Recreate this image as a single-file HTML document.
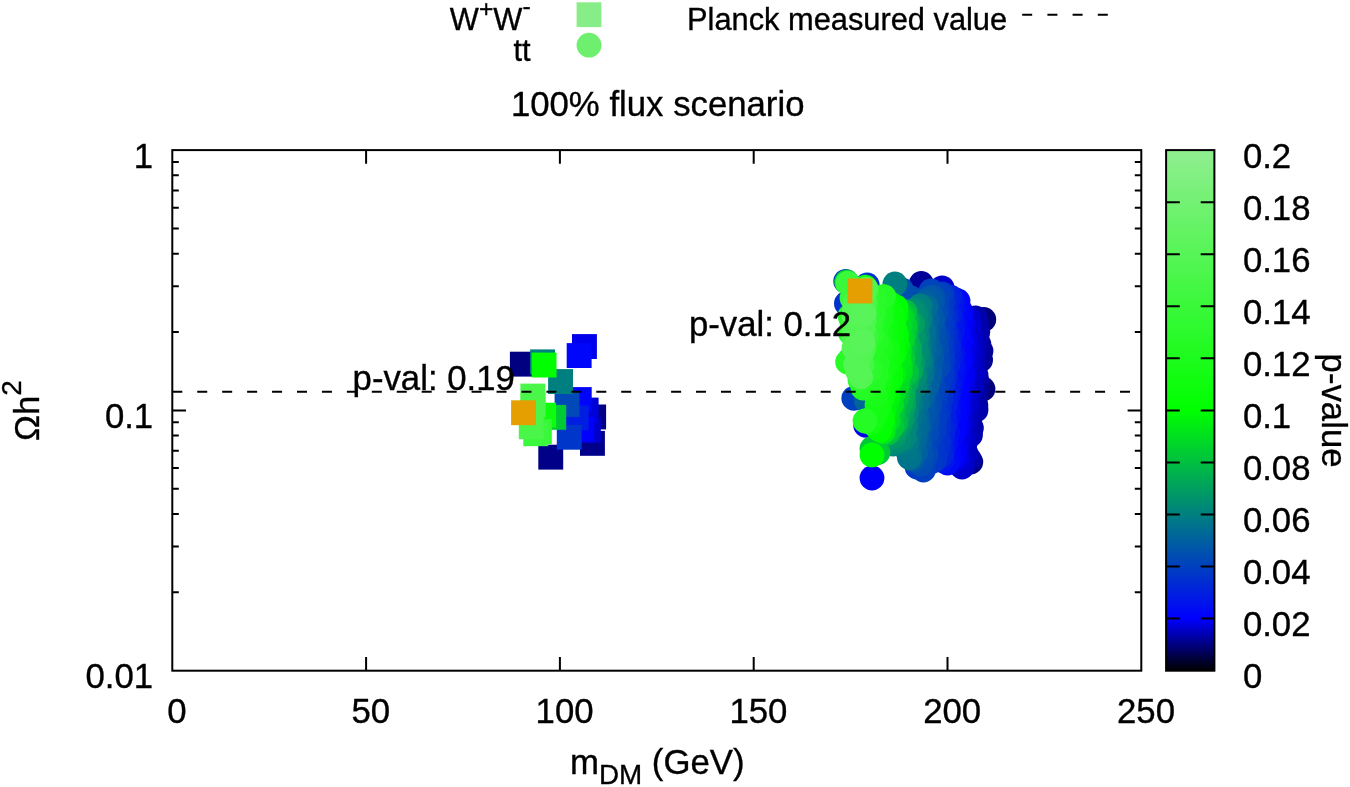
<!DOCTYPE html>
<html><head><meta charset="utf-8"><title>100% flux scenario</title>
<style>html,body{margin:0;padding:0;background:#fff;}body{width:1350px;height:787px;overflow:hidden;}svg{display:block;will-change:transform;}text{font-family:"Liberation Sans",sans-serif;fill:#000;stroke:#000;stroke-width:0.35px;}</style></head><body>
<svg width="1350" height="787" viewBox="0 0 1350 787">
<defs><linearGradient id="cb" x1="0" y1="1" x2="0" y2="0"><stop offset="0" stop-color="#000000"/><stop offset="0.1" stop-color="#0000ff"/><stop offset="0.5" stop-color="#00ff00"/><stop offset="1" stop-color="#90ee90"/></linearGradient></defs>
<rect x="0" y="0" width="1350" height="787" fill="#ffffff"/>
<g stroke="#000" stroke-width="2" fill="none" stroke-linecap="butt">
<path d="M366.1 670.7V657.0M366.1 150.1V163.8"/>
<path d="M559.9 670.7V657.0M559.9 150.1V163.8"/>
<path d="M753.7 670.7V657.0M753.7 150.1V163.8"/>
<path d="M947.5 670.7V657.0M947.5 150.1V163.8"/>
<path d="M172.3 410.4H186.0M1141.3 410.4H1127.6"/>
<path d="M172.3 332.0H178.8M1141.3 332.0H1134.8"/>
<path d="M172.3 286.2H178.8M1141.3 286.2H1134.8"/>
<path d="M172.3 253.7H178.8M1141.3 253.7H1134.8"/>
<path d="M172.3 228.5H178.8M1141.3 228.5H1134.8"/>
<path d="M172.3 207.8H178.8M1141.3 207.8H1134.8"/>
<path d="M172.3 190.4H178.8M1141.3 190.4H1134.8"/>
<path d="M172.3 175.3H178.8M1141.3 175.3H1134.8"/>
<path d="M172.3 162.0H178.8M1141.3 162.0H1134.8"/>
<path d="M172.3 592.3H178.8M1141.3 592.3H1134.8"/>
<path d="M172.3 546.5H178.8M1141.3 546.5H1134.8"/>
<path d="M172.3 514.0H178.8M1141.3 514.0H1134.8"/>
<path d="M172.3 488.8H178.8M1141.3 488.8H1134.8"/>
<path d="M172.3 468.1H178.8M1141.3 468.1H1134.8"/>
<path d="M172.3 450.7H178.8M1141.3 450.7H1134.8"/>
<path d="M172.3 435.6H178.8M1141.3 435.6H1134.8"/>
<path d="M172.3 422.3H178.8M1141.3 422.3H1134.8"/>
</g>
<g id="pts">
<circle cx="983.8" cy="319.4" r="12.4" fill="#000079"/>
<circle cx="983.0" cy="389.0" r="12.4" fill="#000079"/>
<rect x="509.9" y="351.7" width="24.9" height="24.9" fill="#000080"/>
<rect x="581.2" y="404.5" width="24.9" height="24.9" fill="#000086"/>
<circle cx="970.8" cy="462.0" r="12.4" fill="#000086"/>
<rect x="538.3" y="444.7" width="24.9" height="24.9" fill="#000088"/>
<rect x="580.0" y="430.9" width="24.9" height="24.9" fill="#00008a"/>
<circle cx="977.6" cy="385.6" r="12.4" fill="#000090"/>
<circle cx="981.0" cy="351.0" r="12.4" fill="#000092"/>
<circle cx="975.9" cy="405.4" r="12.4" fill="#000095"/>
<circle cx="980.6" cy="360.0" r="12.4" fill="#000095"/>
<circle cx="975.1" cy="396.8" r="12.4" fill="#000099"/>
<circle cx="921.3" cy="283.4" r="12.4" fill="#000099"/>
<circle cx="978.6" cy="354.5" r="12.4" fill="#00009a"/>
<circle cx="978.8" cy="343.9" r="12.4" fill="#00009a"/>
<circle cx="977.9" cy="358.4" r="12.4" fill="#00009b"/>
<circle cx="973.2" cy="409.6" r="12.4" fill="#00009c"/>
<circle cx="976.8" cy="380.5" r="12.4" fill="#0000a1"/>
<circle cx="977.8" cy="331.7" r="12.4" fill="#0000a1"/>
<circle cx="975.0" cy="391.1" r="12.4" fill="#0000a2"/>
<circle cx="976.4" cy="323.4" r="12.4" fill="#0000a4"/>
<circle cx="977.5" cy="346.7" r="12.4" fill="#0000a6"/>
<circle cx="969.1" cy="459.0" r="12.4" fill="#0000a9"/>
<circle cx="971.4" cy="428.1" r="12.4" fill="#0000aa"/>
<circle cx="970.5" cy="415.8" r="12.4" fill="#0000ab"/>
<circle cx="976.0" cy="410.0" r="12.4" fill="#0000ac"/>
<circle cx="970.5" cy="435.0" r="12.4" fill="#0000ac"/>
<circle cx="977.0" cy="335.0" r="12.4" fill="#0000ad"/>
<circle cx="975.4" cy="317.9" r="12.4" fill="#0000ad"/>
<circle cx="975.2" cy="330.9" r="12.4" fill="#0000ae"/>
<circle cx="976.0" cy="375.0" r="12.4" fill="#0000ae"/>
<circle cx="970.2" cy="402.2" r="12.4" fill="#0000b2"/>
<circle cx="968.4" cy="431.9" r="12.4" fill="#0000b4"/>
<circle cx="968.5" cy="436.5" r="12.4" fill="#0000b7"/>
<circle cx="973.2" cy="363.3" r="12.4" fill="#0000b8"/>
<circle cx="971.6" cy="381.0" r="12.4" fill="#0000b8"/>
<circle cx="969.1" cy="393.5" r="12.4" fill="#0000b9"/>
<circle cx="972.1" cy="340.7" r="12.4" fill="#0000bc"/>
<circle cx="966.0" cy="453.4" r="12.4" fill="#0000bc"/>
<circle cx="971.4" cy="388.4" r="12.4" fill="#0000bd"/>
<circle cx="972.8" cy="355.3" r="12.4" fill="#0000bd"/>
<circle cx="963.6" cy="447.2" r="12.4" fill="#0000c0"/>
<circle cx="965.4" cy="418.7" r="12.4" fill="#0000c0"/>
<circle cx="967.3" cy="397.8" r="12.4" fill="#0000c0"/>
<circle cx="972.8" cy="374.5" r="12.4" fill="#0000c2"/>
<circle cx="966.9" cy="385.7" r="12.4" fill="#0000c3"/>
<circle cx="964.8" cy="444.2" r="12.4" fill="#0000c3"/>
<circle cx="966.6" cy="407.9" r="12.4" fill="#0000c3"/>
<circle cx="972.0" cy="348.1" r="12.4" fill="#0000c4"/>
<circle cx="968.8" cy="341.1" r="12.4" fill="#0000c5"/>
<circle cx="968.1" cy="331.2" r="12.4" fill="#0000c5"/>
<circle cx="970.4" cy="334.1" r="12.4" fill="#0000c7"/>
<circle cx="961.9" cy="459.2" r="12.4" fill="#0000c7"/>
<circle cx="942.1" cy="287.8" r="12.4" fill="#0000c8"/>
<circle cx="959.8" cy="456.4" r="12.4" fill="#0000c8"/>
<circle cx="968.5" cy="373.7" r="12.4" fill="#0000c9"/>
<rect x="575.9" y="418.1" width="24.9" height="24.9" fill="#0000c9"/>
<circle cx="962.4" cy="436.0" r="12.4" fill="#0000ca"/>
<circle cx="969.1" cy="325.1" r="12.4" fill="#0000ca"/>
<circle cx="962.5" cy="426.0" r="12.4" fill="#0000ca"/>
<circle cx="970.4" cy="371.7" r="12.4" fill="#0000cb"/>
<circle cx="962.0" cy="467.0" r="12.4" fill="#0000cb"/>
<circle cx="964.9" cy="403.7" r="12.4" fill="#0000cd"/>
<circle cx="968.4" cy="353.5" r="12.4" fill="#0000ce"/>
<circle cx="968.4" cy="318.9" r="12.4" fill="#0000ce"/>
<circle cx="967.8" cy="360.6" r="12.4" fill="#0000cf"/>
<circle cx="961.3" cy="413.7" r="12.4" fill="#0000cf"/>
<circle cx="961.2" cy="419.6" r="12.4" fill="#0000cf"/>
<circle cx="965.2" cy="391.4" r="12.4" fill="#0000d1"/>
<circle cx="966.5" cy="362.3" r="12.4" fill="#0000d2"/>
<circle cx="958.5" cy="442.3" r="12.4" fill="#0000d4"/>
<rect x="573.7" y="397.6" width="24.9" height="24.9" fill="#0000d9"/>
<circle cx="963.4" cy="382.8" r="12.4" fill="#0000da"/>
<circle cx="958.1" cy="429.9" r="12.4" fill="#0000dc"/>
<circle cx="965.3" cy="346.8" r="12.4" fill="#0000e2"/>
<circle cx="964.3" cy="325.9" r="12.4" fill="#0000e2"/>
<circle cx="957.1" cy="458.6" r="12.4" fill="#0000e3"/>
<circle cx="961.5" cy="386.3" r="12.4" fill="#0000e5"/>
<circle cx="964.4" cy="338.0" r="12.4" fill="#0000e5"/>
<circle cx="958.1" cy="435.9" r="12.4" fill="#0000e5"/>
<circle cx="955.9" cy="445.4" r="12.4" fill="#0000e5"/>
<rect x="572.0" y="334.1" width="24.9" height="24.9" fill="#0000ec"/>
<circle cx="865.7" cy="425.3" r="12.4" fill="#0000ec"/>
<circle cx="962.9" cy="371.7" r="12.4" fill="#0000ed"/>
<circle cx="958.4" cy="425.4" r="12.4" fill="#0000f0"/>
<circle cx="959.2" cy="397.9" r="12.4" fill="#0000f2"/>
<circle cx="962.2" cy="376.7" r="12.4" fill="#0000f3"/>
<circle cx="954.8" cy="449.0" r="12.4" fill="#0000f5"/>
<circle cx="958.7" cy="409.4" r="12.4" fill="#0000f7"/>
<circle cx="961.4" cy="320.1" r="12.4" fill="#0000f8"/>
<circle cx="872.0" cy="478.0" r="12.4" fill="#0000f9"/>
<circle cx="953.4" cy="456.0" r="12.4" fill="#0000fb"/>
<circle cx="957.2" cy="413.1" r="12.4" fill="#0000fb"/>
<circle cx="956.4" cy="404.4" r="12.4" fill="#0000fc"/>
<circle cx="962.2" cy="359.8" r="12.4" fill="#0000fc"/>
<rect x="569.5" y="416.8" width="24.9" height="24.9" fill="#0000fc"/>
<circle cx="957.8" cy="382.0" r="12.4" fill="#0000fe"/>
<circle cx="960.2" cy="310.3" r="12.4" fill="#0000fe"/>
<circle cx="959.7" cy="332.7" r="12.4" fill="#0000ff"/>
<circle cx="961.3" cy="341.9" r="12.4" fill="#0001fe"/>
<circle cx="954.2" cy="431.3" r="12.4" fill="#0001fe"/>
<circle cx="957.3" cy="390.9" r="12.4" fill="#0001fe"/>
<circle cx="958.8" cy="346.5" r="12.4" fill="#0002fd"/>
<circle cx="959.9" cy="365.1" r="12.4" fill="#0002fd"/>
<circle cx="961.0" cy="313.0" r="12.4" fill="#0003fc"/>
<circle cx="955.0" cy="399.1" r="12.4" fill="#0003fc"/>
<circle cx="951.3" cy="426.8" r="12.4" fill="#0003fc"/>
<circle cx="955.4" cy="419.1" r="12.4" fill="#0003fc"/>
<circle cx="950.6" cy="459.1" r="12.4" fill="#0004fb"/>
<circle cx="951.3" cy="436.7" r="12.4" fill="#0004fb"/>
<circle cx="958.6" cy="361.0" r="12.4" fill="#0005fa"/>
<rect x="566.8" y="387.1" width="24.9" height="24.9" fill="#0005fa"/>
<circle cx="959.1" cy="352.1" r="12.4" fill="#0005fa"/>
<circle cx="954.0" cy="408.4" r="12.4" fill="#0005fa"/>
<circle cx="949.0" cy="448.3" r="12.4" fill="#0006f9"/>
<circle cx="957.4" cy="304.3" r="12.4" fill="#0006f9"/>
<circle cx="950.8" cy="402.6" r="12.4" fill="#0006f9"/>
<circle cx="958.6" cy="334.2" r="12.4" fill="#0006f9"/>
<rect x="566.7" y="343.1" width="24.9" height="24.9" fill="#0006f9"/>
<circle cx="948.7" cy="456.4" r="12.4" fill="#0007f8"/>
<circle cx="957.0" cy="312.4" r="12.4" fill="#0007f8"/>
<circle cx="955.3" cy="370.2" r="12.4" fill="#0007f8"/>
<circle cx="958.0" cy="301.0" r="12.4" fill="#0007f8"/>
<circle cx="954.6" cy="340.6" r="12.4" fill="#0008f7"/>
<circle cx="947.5" cy="463.0" r="12.4" fill="#000af5"/>
<circle cx="954.9" cy="323.1" r="12.4" fill="#000af5"/>
<circle cx="953.5" cy="298.8" r="12.4" fill="#000bf4"/>
<circle cx="948.5" cy="416.1" r="12.4" fill="#000cf3"/>
<circle cx="951.7" cy="386.6" r="12.4" fill="#000cf3"/>
<circle cx="953.1" cy="376.3" r="12.4" fill="#000cf3"/>
<circle cx="947.8" cy="433.2" r="12.4" fill="#000ef1"/>
<circle cx="948.3" cy="409.2" r="12.4" fill="#000ef1"/>
<circle cx="952.9" cy="364.1" r="12.4" fill="#0010ef"/>
<circle cx="946.2" cy="441.9" r="12.4" fill="#0010ef"/>
<circle cx="949.0" cy="392.3" r="12.4" fill="#0011ee"/>
<circle cx="952.2" cy="368.6" r="12.4" fill="#0012ed"/>
<circle cx="953.2" cy="354.2" r="12.4" fill="#0012ed"/>
<circle cx="952.6" cy="319.8" r="12.4" fill="#0012ed"/>
<circle cx="952.5" cy="310.1" r="12.4" fill="#0013ec"/>
<circle cx="952.3" cy="301.9" r="12.4" fill="#0014eb"/>
<circle cx="952.7" cy="330.7" r="12.4" fill="#0014eb"/>
<circle cx="951.6" cy="324.2" r="12.4" fill="#0016e9"/>
<circle cx="942.3" cy="460.5" r="12.4" fill="#0016e9"/>
<circle cx="949.4" cy="383.1" r="12.4" fill="#0016e9"/>
<circle cx="947.8" cy="396.4" r="12.4" fill="#0018e7"/>
<circle cx="950.3" cy="338.3" r="12.4" fill="#0019e6"/>
<circle cx="950.8" cy="358.2" r="12.4" fill="#001ae5"/>
<circle cx="945.6" cy="422.8" r="12.4" fill="#001be4"/>
<circle cx="947.3" cy="388.5" r="12.4" fill="#001ce3"/>
<circle cx="942.4" cy="438.7" r="12.4" fill="#001de2"/>
<circle cx="942.6" cy="450.3" r="12.4" fill="#001de2"/>
<rect x="563.8" y="405.5" width="24.9" height="24.9" fill="#001de2"/>
<circle cx="944.4" cy="415.7" r="12.4" fill="#001de2"/>
<circle cx="945.4" cy="404.4" r="12.4" fill="#001fe0"/>
<circle cx="943.7" cy="428.1" r="12.4" fill="#001fe0"/>
<circle cx="945.5" cy="393.3" r="12.4" fill="#0020df"/>
<circle cx="949.6" cy="314.9" r="12.4" fill="#0020df"/>
<circle cx="950.0" cy="297.0" r="12.4" fill="#0021de"/>
<circle cx="948.7" cy="352.3" r="12.4" fill="#0022dd"/>
<circle cx="941.1" cy="455.6" r="12.4" fill="#0023dc"/>
<circle cx="942.9" cy="431.4" r="12.4" fill="#0023dc"/>
<circle cx="947.7" cy="364.7" r="12.4" fill="#0025da"/>
<circle cx="946.2" cy="297.7" r="12.4" fill="#0026d9"/>
<circle cx="948.5" cy="345.5" r="12.4" fill="#0027d8"/>
<circle cx="945.7" cy="309.8" r="12.4" fill="#0028d7"/>
<circle cx="945.1" cy="376.3" r="12.4" fill="#002ad5"/>
<circle cx="939.5" cy="443.1" r="12.4" fill="#002bd4"/>
<circle cx="946.3" cy="332.6" r="12.4" fill="#002cd3"/>
<circle cx="937.4" cy="450.5" r="12.4" fill="#002ed1"/>
<circle cx="945.2" cy="341.2" r="12.4" fill="#002ed1"/>
<circle cx="938.6" cy="418.5" r="12.4" fill="#002fd0"/>
<circle cx="943.2" cy="383.0" r="12.4" fill="#002fd0"/>
<circle cx="945.2" cy="317.3" r="12.4" fill="#002fd0"/>
<circle cx="943.6" cy="348.9" r="12.4" fill="#002fd0"/>
<circle cx="941.4" cy="398.0" r="12.4" fill="#002fd0"/>
<circle cx="939.0" cy="426.8" r="12.4" fill="#002fd0"/>
<circle cx="845.7" cy="281.3" r="12.4" fill="#0030cf"/>
<circle cx="867.2" cy="284.9" r="12.4" fill="#0030cf"/>
<circle cx="846.4" cy="303.6" r="12.4" fill="#0030cf"/>
<circle cx="939.4" cy="410.3" r="12.4" fill="#0030cf"/>
<circle cx="940.2" cy="386.2" r="12.4" fill="#0030cf"/>
<circle cx="938.1" cy="439.7" r="12.4" fill="#0031ce"/>
<circle cx="942.5" cy="372.0" r="12.4" fill="#0032cd"/>
<circle cx="935.0" cy="460.0" r="12.4" fill="#0033cc"/>
<circle cx="934.7" cy="456.1" r="12.4" fill="#0034cb"/>
<circle cx="943.0" cy="335.2" r="12.4" fill="#0035ca"/>
<circle cx="943.2" cy="360.8" r="12.4" fill="#0035ca"/>
<circle cx="936.0" cy="410.7" r="12.4" fill="#0035ca"/>
<rect x="556.8" y="424.8" width="24.9" height="24.9" fill="#0036c9"/>
<circle cx="942.0" cy="375.3" r="12.4" fill="#0036c9"/>
<circle cx="931.0" cy="446.7" r="12.4" fill="#0037c8"/>
<circle cx="932.3" cy="445.0" r="12.4" fill="#0037c8"/>
<circle cx="942.9" cy="302.2" r="12.4" fill="#0037c8"/>
<circle cx="936.2" cy="402.2" r="12.4" fill="#0037c8"/>
<circle cx="938.6" cy="383.3" r="12.4" fill="#0038c7"/>
<circle cx="936.8" cy="414.3" r="12.4" fill="#0038c7"/>
<circle cx="942.0" cy="312.5" r="12.4" fill="#0038c7"/>
<circle cx="942.1" cy="323.5" r="12.4" fill="#0038c7"/>
<circle cx="930.7" cy="462.1" r="12.4" fill="#0039c6"/>
<circle cx="942.3" cy="353.9" r="12.4" fill="#0039c6"/>
<circle cx="917.0" cy="467.0" r="12.4" fill="#0039c6"/>
<circle cx="929.5" cy="441.5" r="12.4" fill="#003bc4"/>
<circle cx="941.5" cy="343.8" r="12.4" fill="#003bc4"/>
<circle cx="942.0" cy="294.0" r="12.4" fill="#003bc4"/>
<circle cx="933.1" cy="415.8" r="12.4" fill="#003bc4"/>
<circle cx="935.1" cy="399.8" r="12.4" fill="#003cc3"/>
<circle cx="938.8" cy="328.9" r="12.4" fill="#003cc3"/>
<circle cx="934.3" cy="430.4" r="12.4" fill="#003cc3"/>
<circle cx="934.9" cy="419.5" r="12.4" fill="#003dc2"/>
<circle cx="939.2" cy="309.1" r="12.4" fill="#003dc2"/>
<circle cx="930.3" cy="426.8" r="12.4" fill="#003dc2"/>
<circle cx="939.7" cy="317.6" r="12.4" fill="#003ec1"/>
<circle cx="938.7" cy="325.5" r="12.4" fill="#003ec1"/>
<circle cx="936.8" cy="391.8" r="12.4" fill="#003fc0"/>
<circle cx="929.0" cy="438.9" r="12.4" fill="#003fc0"/>
<circle cx="923.4" cy="470.0" r="12.4" fill="#0040bf"/>
<circle cx="853.8" cy="398.3" r="12.4" fill="#0040bf"/>
<circle cx="938.7" cy="294.8" r="12.4" fill="#0042bd"/>
<circle cx="931.0" cy="291.0" r="12.4" fill="#0043bc"/>
<circle cx="938.4" cy="358.4" r="12.4" fill="#0043bc"/>
<circle cx="926.3" cy="439.4" r="12.4" fill="#0044bb"/>
<circle cx="938.7" cy="365.9" r="12.4" fill="#0044bb"/>
<circle cx="925.0" cy="459.0" r="12.4" fill="#0044bb"/>
<circle cx="938.1" cy="337.9" r="12.4" fill="#0045ba"/>
<circle cx="933.2" cy="386.0" r="12.4" fill="#0045ba"/>
<circle cx="936.6" cy="301.4" r="12.4" fill="#0045ba"/>
<circle cx="932.1" cy="393.7" r="12.4" fill="#0045ba"/>
<circle cx="923.8" cy="450.4" r="12.4" fill="#0045ba"/>
<circle cx="935.0" cy="309.4" r="12.4" fill="#0046b9"/>
<circle cx="926.6" cy="427.2" r="12.4" fill="#0047b8"/>
<circle cx="926.1" cy="454.1" r="12.4" fill="#0047b8"/>
<circle cx="934.8" cy="353.9" r="12.4" fill="#0048b7"/>
<circle cx="927.1" cy="432.3" r="12.4" fill="#0049b6"/>
<circle cx="936.7" cy="368.0" r="12.4" fill="#0049b6"/>
<rect x="554.6" y="392.0" width="24.9" height="24.9" fill="#0049b6"/>
<circle cx="928.2" cy="410.7" r="12.4" fill="#004ab5"/>
<circle cx="932.5" cy="376.3" r="12.4" fill="#004ab5"/>
<circle cx="936.9" cy="349.3" r="12.4" fill="#004ab5"/>
<circle cx="936.3" cy="312.1" r="12.4" fill="#004ab5"/>
<circle cx="928.7" cy="399.9" r="12.4" fill="#004ab5"/>
<circle cx="929.8" cy="405.2" r="12.4" fill="#004bb4"/>
<circle cx="921.0" cy="463.8" r="12.4" fill="#004cb3"/>
<circle cx="911.0" cy="298.0" r="12.4" fill="#004cb2"/>
<circle cx="935.0" cy="341.6" r="12.4" fill="#004db2"/>
<circle cx="927.6" cy="420.3" r="12.4" fill="#004fb0"/>
<circle cx="932.2" cy="364.7" r="12.4" fill="#004fb0"/>
<circle cx="917.0" cy="460.3" r="12.4" fill="#0050af"/>
<circle cx="901.4" cy="289.7" r="12.4" fill="#0050af"/>
<circle cx="933.1" cy="334.6" r="12.4" fill="#0050af"/>
<circle cx="921.2" cy="454.5" r="12.4" fill="#0050af"/>
<circle cx="933.6" cy="330.3" r="12.4" fill="#0051ae"/>
<circle cx="919.0" cy="446.9" r="12.4" fill="#0052ad"/>
<circle cx="921.7" cy="422.7" r="12.4" fill="#0052ad"/>
<circle cx="933.0" cy="297.0" r="12.4" fill="#0052ad"/>
<circle cx="925.6" cy="405.8" r="12.4" fill="#0053ac"/>
<circle cx="924.5" cy="414.1" r="12.4" fill="#0054ab"/>
<circle cx="932.4" cy="301.2" r="12.4" fill="#0055aa"/>
<circle cx="930.5" cy="324.9" r="12.4" fill="#0055aa"/>
<circle cx="922.5" cy="408.0" r="12.4" fill="#0056a9"/>
<circle cx="932.9" cy="319.4" r="12.4" fill="#0056a9"/>
<circle cx="919.9" cy="430.6" r="12.4" fill="#0057a8"/>
<circle cx="919.8" cy="443.2" r="12.4" fill="#0057a8"/>
<circle cx="926.5" cy="380.1" r="12.4" fill="#0058a7"/>
<circle cx="929.1" cy="298.3" r="12.4" fill="#0058a7"/>
<circle cx="931.6" cy="357.0" r="12.4" fill="#0058a7"/>
<circle cx="930.0" cy="312.1" r="12.4" fill="#0058a7"/>
<circle cx="928.9" cy="380.3" r="12.4" fill="#0059a6"/>
<circle cx="929.7" cy="369.0" r="12.4" fill="#0059a6"/>
<circle cx="930.4" cy="349.4" r="12.4" fill="#005ba4"/>
<circle cx="929.7" cy="374.6" r="12.4" fill="#005ca3"/>
<circle cx="926.6" cy="365.4" r="12.4" fill="#005da2"/>
<circle cx="912.1" cy="459.1" r="12.4" fill="#005da2"/>
<circle cx="923.3" cy="392.4" r="12.4" fill="#005da2"/>
<circle cx="927.0" cy="386.6" r="12.4" fill="#005ea1"/>
<circle cx="926.4" cy="302.2" r="12.4" fill="#005ea1"/>
<circle cx="927.3" cy="332.9" r="12.4" fill="#005fa0"/>
<circle cx="915.7" cy="452.5" r="12.4" fill="#005fa0"/>
<circle cx="927.2" cy="319.3" r="12.4" fill="#00619e"/>
<circle cx="927.5" cy="352.0" r="12.4" fill="#00619e"/>
<circle cx="926.9" cy="339.8" r="12.4" fill="#00629d"/>
<circle cx="916.0" cy="436.5" r="12.4" fill="#00629d"/>
<circle cx="922.3" cy="397.9" r="12.4" fill="#00629d"/>
<circle cx="909.1" cy="452.8" r="12.4" fill="#00639c"/>
<circle cx="913.7" cy="444.7" r="12.4" fill="#00649b"/>
<circle cx="923.8" cy="314.0" r="12.4" fill="#00649b"/>
<circle cx="918.3" cy="425.4" r="12.4" fill="#00659a"/>
<circle cx="925.6" cy="327.1" r="12.4" fill="#006699"/>
<circle cx="866.4" cy="400.4" r="12.4" fill="#006699"/>
<circle cx="918.0" cy="392.0" r="12.4" fill="#006699"/>
<circle cx="917.1" cy="416.5" r="12.4" fill="#006699"/>
<circle cx="912.8" cy="428.3" r="12.4" fill="#006798"/>
<circle cx="922.9" cy="370.1" r="12.4" fill="#006798"/>
<circle cx="913.5" cy="439.8" r="12.4" fill="#006897"/>
<circle cx="914.6" cy="432.4" r="12.4" fill="#006996"/>
<circle cx="924.2" cy="345.6" r="12.4" fill="#006a95"/>
<circle cx="909.6" cy="449.9" r="12.4" fill="#006a95"/>
<circle cx="925.9" cy="307.0" r="12.4" fill="#006a95"/>
<circle cx="914.1" cy="407.9" r="12.4" fill="#006b94"/>
<circle cx="914.5" cy="418.6" r="12.4" fill="#006c93"/>
<circle cx="916.5" cy="397.9" r="12.4" fill="#006d92"/>
<circle cx="917.3" cy="402.8" r="12.4" fill="#006d92"/>
<circle cx="922.7" cy="358.3" r="12.4" fill="#006d92"/>
<circle cx="923.8" cy="334.4" r="12.4" fill="#006e91"/>
<circle cx="919.5" cy="388.1" r="12.4" fill="#006e91"/>
<circle cx="923.0" cy="329.7" r="12.4" fill="#006f90"/>
<circle cx="910.0" cy="433.7" r="12.4" fill="#00708f"/>
<circle cx="911.2" cy="415.3" r="12.4" fill="#00728d"/>
<circle cx="921.8" cy="375.6" r="12.4" fill="#00728d"/>
<circle cx="909.6" cy="421.1" r="12.4" fill="#00728d"/>
<circle cx="909.4" cy="457.4" r="12.4" fill="#00738c"/>
<circle cx="918.1" cy="380.3" r="12.4" fill="#00748b"/>
<circle cx="919.7" cy="369.1" r="12.4" fill="#00758a"/>
<circle cx="920.1" cy="343.9" r="12.4" fill="#00758a"/>
<circle cx="906.4" cy="449.2" r="12.4" fill="#007689"/>
<circle cx="919.5" cy="353.2" r="12.4" fill="#007887"/>
<circle cx="907.2" cy="442.9" r="12.4" fill="#007887"/>
<circle cx="921.3" cy="363.9" r="12.4" fill="#007986"/>
<circle cx="911.1" cy="403.5" r="12.4" fill="#007a85"/>
<circle cx="919.7" cy="306.5" r="12.4" fill="#007b84"/>
<circle cx="902.0" cy="441.7" r="12.4" fill="#007e81"/>
<circle cx="917.4" cy="349.0" r="12.4" fill="#007e81"/>
<circle cx="920.4" cy="318.8" r="12.4" fill="#007f80"/>
<rect x="530.1" y="349.4" width="24.9" height="24.9" fill="#007f80"/>
<rect x="548.1" y="369.1" width="24.9" height="24.9" fill="#007f80"/>
<circle cx="920.0" cy="306.0" r="12.4" fill="#007f80"/>
<circle cx="894.9" cy="284.0" r="12.4" fill="#007f80"/>
<circle cx="910.2" cy="391.5" r="12.4" fill="#00817e"/>
<circle cx="915.3" cy="386.0" r="12.4" fill="#00817e"/>
<circle cx="919.3" cy="359.0" r="12.4" fill="#00837c"/>
<circle cx="917.6" cy="336.4" r="12.4" fill="#00847b"/>
<circle cx="904.5" cy="437.4" r="12.4" fill="#00847b"/>
<circle cx="905.6" cy="426.0" r="12.4" fill="#00857a"/>
<circle cx="915.0" cy="318.3" r="12.4" fill="#00857a"/>
<circle cx="908.7" cy="397.8" r="12.4" fill="#00857a"/>
<circle cx="906.7" cy="408.3" r="12.4" fill="#00857a"/>
<circle cx="893.0" cy="444.0" r="12.4" fill="#008679"/>
<circle cx="902.9" cy="430.8" r="12.4" fill="#008778"/>
<circle cx="915.0" cy="310.1" r="12.4" fill="#008778"/>
<circle cx="909.6" cy="387.5" r="12.4" fill="#008877"/>
<circle cx="911.7" cy="381.0" r="12.4" fill="#008877"/>
<circle cx="916.1" cy="315.4" r="12.4" fill="#008976"/>
<circle cx="906.2" cy="413.8" r="12.4" fill="#008976"/>
<circle cx="917.0" cy="326.0" r="12.4" fill="#008a75"/>
<circle cx="915.1" cy="376.1" r="12.4" fill="#008b74"/>
<circle cx="894.0" cy="441.3" r="12.4" fill="#008b74"/>
<circle cx="916.4" cy="341.8" r="12.4" fill="#008b74"/>
<circle cx="916.9" cy="352.1" r="12.4" fill="#008c73"/>
<circle cx="899.1" cy="439.6" r="12.4" fill="#008c73"/>
<circle cx="912.8" cy="311.9" r="12.4" fill="#00906f"/>
<circle cx="913.1" cy="332.5" r="12.4" fill="#00916e"/>
<circle cx="899.8" cy="425.8" r="12.4" fill="#00946b"/>
<circle cx="913.4" cy="363.2" r="12.4" fill="#00956a"/>
<circle cx="913.2" cy="337.4" r="12.4" fill="#00956a"/>
<circle cx="894.0" cy="436.5" r="12.4" fill="#009966"/>
<circle cx="902.0" cy="418.7" r="12.4" fill="#009a65"/>
<circle cx="895.1" cy="430.2" r="12.4" fill="#009f60"/>
<circle cx="912.5" cy="323.9" r="12.4" fill="#00a05f"/>
<circle cx="904.0" cy="403.4" r="12.4" fill="#00a05f"/>
<circle cx="902.4" cy="408.4" r="12.4" fill="#00a25d"/>
<circle cx="910.8" cy="371.2" r="12.4" fill="#00a659"/>
<circle cx="906.5" cy="382.3" r="12.4" fill="#00aa55"/>
<circle cx="910.1" cy="358.0" r="12.4" fill="#00ac53"/>
<circle cx="902.3" cy="398.0" r="12.4" fill="#00ac53"/>
<circle cx="897.9" cy="415.0" r="12.4" fill="#00ac53"/>
<circle cx="907.8" cy="366.0" r="12.4" fill="#00ad52"/>
<circle cx="909.8" cy="349.6" r="12.4" fill="#00ad52"/>
<circle cx="903.2" cy="394.3" r="12.4" fill="#00ae51"/>
<circle cx="907.2" cy="321.4" r="12.4" fill="#00ae51"/>
<circle cx="907.5" cy="355.3" r="12.4" fill="#00ae51"/>
<circle cx="908.1" cy="343.9" r="12.4" fill="#00af50"/>
<circle cx="900.6" cy="403.2" r="12.4" fill="#00b24d"/>
<circle cx="906.1" cy="331.8" r="12.4" fill="#00b748"/>
<circle cx="906.5" cy="375.1" r="12.4" fill="#00b847"/>
<circle cx="895.9" cy="422.6" r="12.4" fill="#00ba45"/>
<circle cx="898.1" cy="392.1" r="12.4" fill="#00bb44"/>
<circle cx="900.0" cy="384.9" r="12.4" fill="#00bd42"/>
<circle cx="905.0" cy="312.0" r="12.4" fill="#00bf40"/>
<circle cx="904.0" cy="346.9" r="12.4" fill="#00c03f"/>
<circle cx="887.7" cy="433.1" r="12.4" fill="#00c23d"/>
<circle cx="906.3" cy="372.0" r="12.4" fill="#00c23d"/>
<circle cx="892.6" cy="414.4" r="12.4" fill="#00c43b"/>
<circle cx="896.5" cy="399.1" r="12.4" fill="#00c53a"/>
<circle cx="893.1" cy="407.3" r="12.4" fill="#00c53a"/>
<rect x="541.3" y="404.9" width="24.9" height="24.9" fill="#00c936"/>
<circle cx="872.0" cy="448.5" r="12.4" fill="#00c936"/>
<circle cx="878.0" cy="452.5" r="12.4" fill="#00c936"/>
<circle cx="891.7" cy="427.1" r="12.4" fill="#00c936"/>
<circle cx="903.9" cy="335.2" r="12.4" fill="#00c936"/>
<circle cx="903.1" cy="315.7" r="12.4" fill="#00cb34"/>
<circle cx="902.9" cy="358.0" r="12.4" fill="#00cc33"/>
<circle cx="905.2" cy="325.7" r="12.4" fill="#00cd32"/>
<circle cx="846.6" cy="282.0" r="12.4" fill="#00cf30"/>
<circle cx="897.8" cy="382.4" r="12.4" fill="#00d02f"/>
<circle cx="901.1" cy="329.9" r="12.4" fill="#00d12e"/>
<circle cx="901.6" cy="317.9" r="12.4" fill="#00d827"/>
<circle cx="902.2" cy="339.8" r="12.4" fill="#00d827"/>
<circle cx="897.2" cy="385.2" r="12.4" fill="#00da25"/>
<circle cx="899.6" cy="373.5" r="12.4" fill="#00de21"/>
<circle cx="899.8" cy="351.1" r="12.4" fill="#00de21"/>
<circle cx="888.4" cy="419.9" r="12.4" fill="#00df20"/>
<circle cx="893.3" cy="393.1" r="12.4" fill="#00df20"/>
<circle cx="899.8" cy="326.1" r="12.4" fill="#00df20"/>
<circle cx="900.5" cy="371.9" r="12.4" fill="#00e11e"/>
<circle cx="891.5" cy="405.0" r="12.4" fill="#00e31c"/>
<circle cx="887.2" cy="413.0" r="12.4" fill="#00e41b"/>
<circle cx="900.3" cy="365.7" r="12.4" fill="#00e41b"/>
<circle cx="897.0" cy="365.0" r="12.4" fill="#00e619"/>
<circle cx="887.2" cy="410.9" r="12.4" fill="#00e817"/>
<circle cx="883.0" cy="431.8" r="12.4" fill="#00eb14"/>
<circle cx="895.4" cy="308.0" r="12.4" fill="#00eb14"/>
<circle cx="898.9" cy="359.5" r="12.4" fill="#00eb14"/>
<circle cx="887.5" cy="402.6" r="12.4" fill="#00ec13"/>
<circle cx="883.6" cy="425.8" r="12.4" fill="#00ee11"/>
<circle cx="896.6" cy="314.6" r="12.4" fill="#00f20d"/>
<circle cx="893.6" cy="374.5" r="12.4" fill="#00f40b"/>
<circle cx="883.7" cy="411.3" r="12.4" fill="#00f50a"/>
<circle cx="888.3" cy="396.2" r="12.4" fill="#00f50a"/>
<circle cx="886.8" cy="388.6" r="12.4" fill="#00f609"/>
<circle cx="897.8" cy="346.1" r="12.4" fill="#00f609"/>
<circle cx="896.7" cy="335.6" r="12.4" fill="#00fa05"/>
<circle cx="895.6" cy="341.4" r="12.4" fill="#00fc03"/>
<circle cx="890.4" cy="304.0" r="12.4" fill="#00fe01"/>
<rect x="531.6" y="352.6" width="24.9" height="24.9" fill="#00ff00"/>
<circle cx="872.0" cy="454.9" r="12.4" fill="#00ff00"/>
<circle cx="896.0" cy="307.0" r="12.4" fill="#00ff00"/>
<circle cx="882.5" cy="419.7" r="12.4" fill="#01ff01"/>
<circle cx="888.5" cy="375.7" r="12.4" fill="#01ff01"/>
<circle cx="894.3" cy="318.3" r="12.4" fill="#01ff01"/>
<circle cx="895.0" cy="329.8" r="12.4" fill="#01ff01"/>
<circle cx="883.7" cy="393.8" r="12.4" fill="#02ff02"/>
<circle cx="883.6" cy="388.4" r="12.4" fill="#02ff02"/>
<circle cx="893.9" cy="354.3" r="12.4" fill="#02ff02"/>
<circle cx="881.1" cy="415.1" r="12.4" fill="#03ff03"/>
<circle cx="880.0" cy="430.0" r="12.4" fill="#03ff03"/>
<circle cx="892.7" cy="347.0" r="12.4" fill="#03ff03"/>
<circle cx="877.5" cy="427.9" r="12.4" fill="#03ff03"/>
<circle cx="890.3" cy="321.0" r="12.4" fill="#04ff04"/>
<circle cx="890.7" cy="372.2" r="12.4" fill="#04ff04"/>
<circle cx="890.3" cy="380.1" r="12.4" fill="#05fe05"/>
<circle cx="887.7" cy="371.1" r="12.4" fill="#06fe06"/>
<circle cx="891.8" cy="334.7" r="12.4" fill="#07fe07"/>
<circle cx="892.3" cy="314.7" r="12.4" fill="#07fe07"/>
<circle cx="865.3" cy="287.2" r="12.4" fill="#07fe07"/>
<circle cx="875.2" cy="422.1" r="12.4" fill="#07fe07"/>
<circle cx="892.8" cy="325.0" r="12.4" fill="#07fe07"/>
<circle cx="880.4" cy="403.9" r="12.4" fill="#08fe08"/>
<circle cx="882.9" cy="396.5" r="12.4" fill="#09fe09"/>
<circle cx="890.4" cy="357.5" r="12.4" fill="#09fe09"/>
<circle cx="888.8" cy="309.0" r="12.4" fill="#09fe09"/>
<circle cx="886.6" cy="381.1" r="12.4" fill="#09fe09"/>
<circle cx="884.3" cy="338.1" r="12.4" fill="#0afe0a"/>
<circle cx="884.4" cy="312.2" r="12.4" fill="#0bfe0b"/>
<circle cx="887.0" cy="340.0" r="12.4" fill="#0bfe0b"/>
<circle cx="879.0" cy="390.9" r="12.4" fill="#0cfe0c"/>
<circle cx="885.8" cy="325.6" r="12.4" fill="#0cfe0c"/>
<circle cx="886.7" cy="328.5" r="12.4" fill="#0cfe0c"/>
<circle cx="884.0" cy="304.3" r="12.4" fill="#0dfd0d"/>
<circle cx="886.8" cy="366.3" r="12.4" fill="#0efd0e"/>
<rect x="531.2" y="402.7" width="24.9" height="24.9" fill="#0efd0e"/>
<circle cx="888.1" cy="354.4" r="12.4" fill="#0ffd0f"/>
<circle cx="882.4" cy="299.0" r="12.4" fill="#0ffd0f"/>
<circle cx="886.0" cy="357.6" r="12.4" fill="#0ffd0f"/>
<circle cx="877.6" cy="411.0" r="12.4" fill="#10fd10"/>
<circle cx="880.5" cy="382.4" r="12.4" fill="#10fd10"/>
<circle cx="887.4" cy="348.6" r="12.4" fill="#11fd11"/>
<circle cx="884.2" cy="366.5" r="12.4" fill="#11fd11"/>
<circle cx="870.5" cy="422.5" r="12.4" fill="#11fd11"/>
<circle cx="881.0" cy="368.5" r="12.4" fill="#12fd12"/>
<circle cx="873.3" cy="417.0" r="12.4" fill="#12fd12"/>
<circle cx="877.0" cy="405.0" r="12.4" fill="#13fd13"/>
<circle cx="881.2" cy="342.5" r="12.4" fill="#14fd14"/>
<circle cx="880.2" cy="374.2" r="12.4" fill="#14fd14"/>
<circle cx="882.0" cy="308.6" r="12.4" fill="#15fd15"/>
<circle cx="881.0" cy="357.1" r="12.4" fill="#15fc15"/>
<circle cx="882.7" cy="352.4" r="12.4" fill="#16fc16"/>
<circle cx="878.7" cy="315.6" r="12.4" fill="#16fc16"/>
<circle cx="878.4" cy="323.3" r="12.4" fill="#17fc17"/>
<circle cx="881.1" cy="332.4" r="12.4" fill="#17fc17"/>
<circle cx="884.0" cy="297.0" r="12.4" fill="#18fc18"/>
<circle cx="876.0" cy="395.0" r="12.4" fill="#19fc19"/>
<circle cx="876.0" cy="309.3" r="12.4" fill="#1afc1a"/>
<circle cx="876.8" cy="354.6" r="12.4" fill="#1afc1a"/>
<circle cx="873.8" cy="387.3" r="12.4" fill="#1bfc1b"/>
<circle cx="880.9" cy="346.8" r="12.4" fill="#1bfc1b"/>
<circle cx="874.2" cy="348.6" r="12.4" fill="#1cfc1c"/>
<circle cx="881.2" cy="317.9" r="12.4" fill="#1cfc1c"/>
<circle cx="869.8" cy="387.8" r="12.4" fill="#1dfc1d"/>
<circle cx="877.7" cy="338.1" r="12.4" fill="#1dfc1d"/>
<circle cx="875.8" cy="332.4" r="12.4" fill="#1dfc1d"/>
<circle cx="880.0" cy="301.1" r="12.4" fill="#1efb1e"/>
<circle cx="874.1" cy="317.5" r="12.4" fill="#1ffb1f"/>
<circle cx="872.0" cy="302.1" r="12.4" fill="#20fb20"/>
<circle cx="877.8" cy="363.1" r="12.4" fill="#22fb22"/>
<circle cx="872.3" cy="357.7" r="12.4" fill="#22fb22"/>
<circle cx="870.5" cy="340.7" r="12.4" fill="#22fb22"/>
<circle cx="871.2" cy="329.0" r="12.4" fill="#22fb22"/>
<circle cx="871.1" cy="351.8" r="12.4" fill="#23fb23"/>
<circle cx="876.5" cy="374.9" r="12.4" fill="#23fb23"/>
<circle cx="873.7" cy="382.3" r="12.4" fill="#23fb23"/>
<circle cx="863.0" cy="388.0" r="12.4" fill="#24fb24"/>
<circle cx="883.5" cy="296.6" r="12.4" fill="#24fb24"/>
<circle cx="876.4" cy="341.1" r="12.4" fill="#24fb24"/>
<circle cx="869.9" cy="377.8" r="12.4" fill="#24fb24"/>
<circle cx="851.2" cy="318.9" r="12.4" fill="#25fb25"/>
<circle cx="865.0" cy="421.0" r="12.4" fill="#25fb25"/>
<circle cx="865.1" cy="379.3" r="12.4" fill="#25fb25"/>
<circle cx="847.6" cy="362.0" r="12.4" fill="#25fb25"/>
<circle cx="867.9" cy="358.2" r="12.4" fill="#26fb26"/>
<circle cx="851.0" cy="357.9" r="12.4" fill="#27fa27"/>
<circle cx="867.5" cy="364.4" r="12.4" fill="#27fa27"/>
<circle cx="850.0" cy="316.0" r="12.4" fill="#27fa27"/>
<circle cx="850.5" cy="333.0" r="12.4" fill="#28fa28"/>
<circle cx="860.0" cy="380.0" r="12.4" fill="#28fa28"/>
<circle cx="867.7" cy="325.8" r="12.4" fill="#29fa29"/>
<circle cx="873.7" cy="312.8" r="12.4" fill="#29fa29"/>
<circle cx="874.2" cy="297.1" r="12.4" fill="#2afa2a"/>
<circle cx="870.5" cy="370.1" r="12.4" fill="#2afa2a"/>
<circle cx="868.3" cy="309.3" r="12.4" fill="#2bfa2b"/>
<circle cx="872.0" cy="334.8" r="12.4" fill="#2bfa2b"/>
<circle cx="867.0" cy="371.3" r="12.4" fill="#2dfa2d"/>
<circle cx="871.3" cy="323.0" r="12.4" fill="#2dfa2d"/>
<circle cx="868.8" cy="318.7" r="12.4" fill="#31f931"/>
<circle cx="867.2" cy="298.9" r="12.4" fill="#31f931"/>
<rect x="526.9" y="419.1" width="24.9" height="24.9" fill="#32f932"/>
<circle cx="851.8" cy="330.4" r="12.4" fill="#33f933"/>
<circle cx="866.7" cy="335.4" r="12.4" fill="#39f839"/>
<circle cx="847.7" cy="283.1" r="12.4" fill="#3af83a"/>
<circle cx="852.0" cy="298.0" r="12.4" fill="#3bf83b"/>
<rect x="523.3" y="421.3" width="24.9" height="24.9" fill="#3cf83c"/>
<circle cx="853.1" cy="325.1" r="12.4" fill="#40f740"/>
<circle cx="861.6" cy="315.0" r="12.4" fill="#44f744"/>
<circle cx="865.3" cy="303.8" r="12.4" fill="#44f744"/>
<circle cx="861.8" cy="364.5" r="12.4" fill="#45f745"/>
<circle cx="852.9" cy="335.6" r="12.4" fill="#46f746"/>
<circle cx="864.1" cy="347.1" r="12.4" fill="#46f746"/>
<circle cx="859.4" cy="301.1" r="12.4" fill="#48f748"/>
<circle cx="856.3" cy="308.4" r="12.4" fill="#48f748"/>
<circle cx="857.2" cy="342.6" r="12.4" fill="#48f648"/>
<circle cx="854.8" cy="303.8" r="12.4" fill="#49f649"/>
<circle cx="864.2" cy="320.3" r="12.4" fill="#4bf64b"/>
<rect x="520.4" y="383.6" width="24.9" height="24.9" fill="#4bf64b"/>
<rect x="520.7" y="392.4" width="24.9" height="24.9" fill="#4bf64b"/>
<rect x="518.8" y="414.3" width="24.9" height="24.9" fill="#4bf64b"/>
<circle cx="864.8" cy="291.2" r="12.4" fill="#4cf64c"/>
<circle cx="860.8" cy="326.5" r="12.4" fill="#4cf64c"/>
<circle cx="858.1" cy="360.9" r="12.4" fill="#4cf64c"/>
<circle cx="863.1" cy="329.1" r="12.4" fill="#4df64d"/>
<circle cx="861.7" cy="352.9" r="12.4" fill="#4df64d"/>
<circle cx="866.0" cy="289.0" r="12.4" fill="#4ef64e"/>
<circle cx="857.2" cy="362.7" r="12.4" fill="#4ff64f"/>
<circle cx="858.3" cy="355.2" r="12.4" fill="#4ff64f"/>
<circle cx="857.1" cy="321.5" r="12.4" fill="#50f650"/>
<circle cx="860.6" cy="338.4" r="12.4" fill="#52f552"/>
<circle cx="860.8" cy="377.1" r="12.4" fill="#52f552"/>
<circle cx="861.0" cy="308.4" r="12.4" fill="#52f552"/>
<circle cx="855.0" cy="332.6" r="12.4" fill="#53f553"/>
<circle cx="861.7" cy="298.3" r="12.4" fill="#53f553"/>
<circle cx="855.7" cy="364.5" r="12.4" fill="#54f554"/>
<circle cx="857.5" cy="370.7" r="12.4" fill="#55f555"/>
<circle cx="853.5" cy="313.8" r="12.4" fill="#55f555"/>
<circle cx="861.6" cy="346.0" r="12.4" fill="#55f555"/>
<circle cx="864.3" cy="312.7" r="12.4" fill="#56f556"/>
<circle cx="862.6" cy="342.1" r="12.4" fill="#56f556"/>
<circle cx="854.0" cy="348.0" r="12.4" fill="#56f556"/>
<circle cx="862.7" cy="314.9" r="12.4" fill="#59f459"/>
<circle cx="862.8" cy="341.7" r="12.4" fill="#59f459"/>
<rect x="511.1" y="400.3" width="24.9" height="24.9" fill="#e69f00"/>
<rect x="847.5" y="278.5" width="24.9" height="24.9" fill="#e69f00"/>
</g>
<path d="M172.3 391.8H1141.3" stroke="#000" stroke-width="2" stroke-dasharray="10 14.94" fill="none"/>
<rect x="172.3" y="150.1" width="969.0" height="520.6" fill="none" stroke="#000" stroke-width="2"/>
<rect x="1166.1" y="150.1" width="48.3" height="520.6" fill="url(#cb)"/>
<g stroke="#000" stroke-width="2" fill="none">
<path d="M1166.1 202.2h13.7M1214.4 202.2h-13.7"/>
<path d="M1166.1 254.2h13.7M1214.4 254.2h-13.7"/>
<path d="M1166.1 306.3h13.7M1214.4 306.3h-13.7"/>
<path d="M1166.1 358.3h13.7M1214.4 358.3h-13.7"/>
<path d="M1166.1 410.4h13.7M1214.4 410.4h-13.7"/>
<path d="M1166.1 462.5h13.7M1214.4 462.5h-13.7"/>
<path d="M1166.1 514.5h13.7M1214.4 514.5h-13.7"/>
<path d="M1166.1 566.6h13.7M1214.4 566.6h-13.7"/>
<path d="M1166.1 618.6h13.7M1214.4 618.6h-13.7"/>
<rect x="1166.1" y="150.1" width="48.3" height="520.6"/>
</g>
<g font-size="34.75">
<text x="153.2" y="167.6" text-anchor="end">1</text>
<text x="153.2" y="427.9" text-anchor="end">0.1</text>
<text x="153.2" y="688.2" text-anchor="end">0.01</text>
<text x="177.0" y="722.7" text-anchor="middle">0</text>
<text x="370.8" y="722.7" text-anchor="middle">50</text>
<text x="564.6" y="722.7" text-anchor="middle">100</text>
<text x="758.4" y="722.7" text-anchor="middle">150</text>
<text x="952.2" y="722.7" text-anchor="middle">200</text>
<text x="1146.0" y="722.7" text-anchor="middle">250</text>
<text x="1242.9" y="688.4">0</text>
<text x="1242.9" y="636.3">0.02</text>
<text x="1242.9" y="584.3">0.04</text>
<text x="1242.9" y="532.2">0.06</text>
<text x="1242.9" y="480.2">0.08</text>
<text x="1242.9" y="428.1">0.1</text>
<text x="1242.9" y="376.0">0.12</text>
<text x="1242.9" y="324.0">0.14</text>
<text x="1242.9" y="271.9">0.16</text>
<text x="1242.9" y="219.9">0.18</text>
<text x="1242.9" y="167.8">0.2</text>
<text x="352.6" y="390.0">p-val: 0.19</text>
<text x="688.9" y="336.1">p-val: 0.12</text>
<text x="657.7" y="116" text-anchor="middle">100% flux scenario</text>
<text x="570" y="773.7">m<tspan font-size="27.80" dy="10.2">DM</tspan><tspan dy="-10.2"> (GeV)</tspan></text>
<text transform="translate(38.6 441) rotate(-90)">Ωh<tspan font-size="27.80" dy="-17.2">2</tspan></text>
<text transform="translate(1322 353.6) rotate(90)">p-value</text>
</g>
<g font-size="30.8">
<text x="530.6" y="30.1" text-anchor="end">W<tspan font-size="24.64" dy="-13.3">+</tspan><tspan dy="13.3">W</tspan><tspan font-size="24.64" dy="-16">-</tspan></text>
<text x="530.6" y="60.7" text-anchor="end">tt</text>
<text x="687" y="30">Planck measured value</text>
</g>
<rect x="576.6" y="2.3" width="24.8" height="24.8" fill="#87ee87"/>
<circle cx="589" cy="45.2" r="12.4" fill="#6ef06e"/>
<path d="M1022.2 14.7H1108" stroke="#000" stroke-width="2" stroke-dasharray="10 15.2" fill="none"/>
</svg></body></html>
